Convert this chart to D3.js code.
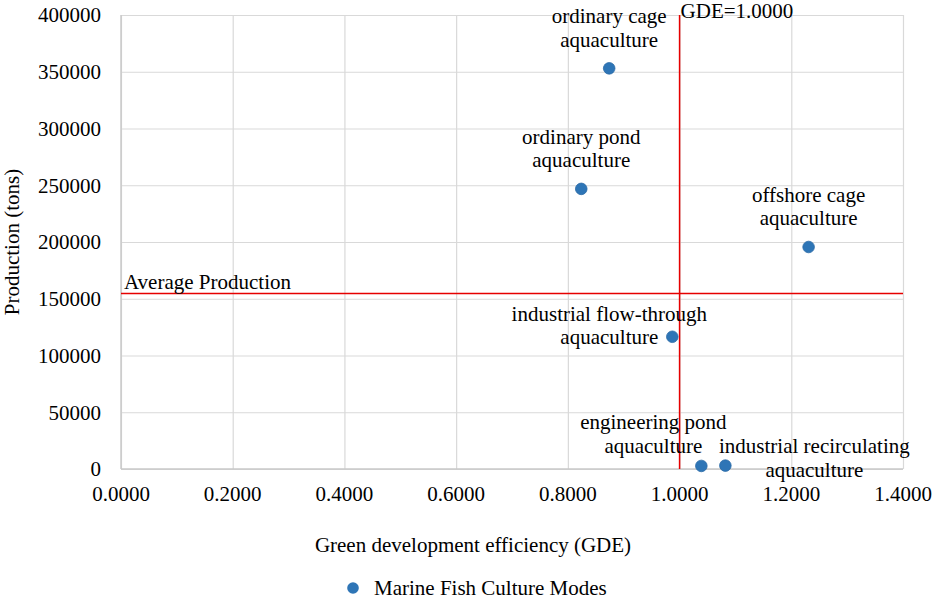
<!DOCTYPE html>
<html>
<head>
<meta charset="utf-8">
<script src="https://cdn.jsdelivr.net/npm/d3@7"></script>
<style>
	body { margin: 0; background: #fff; }
	svg text { font-family: "Liberation Serif", "Times New Roman", serif; fill: #000; }
</style>
</head>
<body>
<svg id="chart" width="935" height="599"></svg>
<script>
// culture modes
const modes = [
	["ordinary cage", "aquaculture"],
	["ordinary pond", "aquaculture"],
	["offshore cage", "aquaculture"],
	["industrial flow-through", "aquaculture"],
	["engineering pond", "aquaculture"],
	["industrial recirculating", "aquaculture"]
];
const gde = [0.874, 0.824, 1.231, 0.987, 1.039, 1.082];
const production = [353000, 246800, 195600, 116500, 2700, 3000];
const labelPlacement = ["above", "above", "above", "left", "aboveLeft", "belowRight"];

const xTicks = [0, 0.2, 0.4, 0.6, 0.8, 1.0, 1.2, 1.4];
const yTicks = [0, 50000, 100000, 150000, 200000, 250000, 300000, 350000, 400000];
const gdeThreshold = 1.0;
const avgProduction = 154700;
const seriesName = "Marine Fish Culture Modes";

const margin = {top: 15, right: 32, bottom: 130, left: 121},
			width = 935, height = 599,
			fontSize = 21,
			lineGap = 23.5;

const svg = d3.select("#chart");

const x = d3.scaleLinear().domain([0, 1.4]).range([margin.left, width - margin.right]);
const y = d3.scaleLinear().domain([0, 400000]).range([height - margin.bottom, margin.top]);

// grid
svg.append("g")
	.attr("transform", "translate(0," + y(0) + ")")
	.call(d3.axisBottom(x).tickValues(xTicks).tickSize(-(y(0) - y(400000))).tickFormat(""))
	.call(g => g.select(".domain").remove())
	.call(g => g.selectAll("line").attr("stroke", "#d9d9d9").attr("stroke-width", 1.2));

svg.append("g")
	.attr("transform", "translate(" + x(0) + ",0)")
	.call(d3.axisLeft(y).tickValues(yTicks).tickSize(-(x(1.4) - x(0))).tickFormat(""))
	.call(g => g.select(".domain").remove())
	.call(g => g.selectAll("line").attr("stroke", "#d9d9d9").attr("stroke-width", 1.2));

// axis lines
svg.append("line")
	.attr("x1", x(0)).attr("x2", x(0)).attr("y1", y(0)).attr("y2", y(400000))
	.attr("stroke", "#c8c8c8").attr("stroke-width", 1.4);
svg.append("line")
	.attr("x1", x(0)).attr("x2", x(1.4)).attr("y1", y(0)).attr("y2", y(0))
	.attr("stroke", "#c8c8c8").attr("stroke-width", 1.4);

// tick labels
svg.append("g").selectAll("text")
	.data(xTicks)
	.join("text")
		.attr("x", d => x(d))
		.attr("y", y(0) + 32)
		.attr("text-anchor", "middle")
		.attr("font-size", fontSize)
		.text(d => d3.format(".4f")(d));

svg.append("g").selectAll("text")
	.data(yTicks)
	.join("text")
		.attr("x", x(0) - 20)
		.attr("y", d => y(d))
		.attr("dy", "0.35em")
		.attr("text-anchor", "end")
		.attr("font-size", fontSize)
		.text(d => d);

// axis titles
svg.append("text")
	.attr("x", 473)
	.attr("y", 552)
	.attr("text-anchor", "middle")
	.attr("font-size", fontSize)
	.text("Green development efficiency (GDE)");

svg.append("text")
	.attr("transform", "translate(12," + (y(200000)) + ") rotate(-90)")
	.attr("text-anchor", "middle")
	.attr("dy", "0.35em")
	.attr("font-size", fontSize)
	.text("Production (tons)");

// reference lines
svg.append("line")
	.attr("x1", x(gdeThreshold)).attr("x2", x(gdeThreshold))
	.attr("y1", y(0)).attr("y2", y(400000))
	.attr("stroke", "#e60000").attr("stroke-width", 1.5);
svg.append("line")
	.attr("x1", x(0)).attr("x2", x(1.4))
	.attr("y1", y(avgProduction)).attr("y2", y(avgProduction))
	.attr("stroke", "#e60000").attr("stroke-width", 1.5);

svg.append("text")
	.attr("x", x(gdeThreshold) + 1)
	.attr("y", 18)
	.attr("font-size", fontSize)
	.text("GDE=" + d3.format(".4f")(gdeThreshold));

svg.append("text")
	.attr("x", x(0) + 3)
	.attr("y", y(avgProduction) - 4)
	.attr("font-size", fontSize)
	.text("Average Production");

// points
svg.append("g").selectAll("circle")
	.data(gde)
	.join("circle")
		.attr("cx", d => x(d))
		.attr("cy", (d, i) => y(production[i]))
		.attr("r", 5.8)
		.attr("fill", "#2e75b6")
		.attr("stroke", "#2a6aa6")
		.attr("stroke-width", 0.8);

// data labels
const placements = {
	above: {dx: 0, dy: -52.5},
	left: {dx: -63, dy: -23.4},
	aboveLeft: {dx: -48, dy: -44},
	belowRight: {dx: 89, dy: -19.6}
};

const labels = svg.append("g").selectAll("text")
	.data(modes)
	.join("text")
		.attr("text-anchor", "middle")
		.attr("font-size", fontSize)
		.attr("transform", (d, i) => {
			const p = placements[labelPlacement[i]];
			return "translate(" + (x(gde[i]) + p.dx) + "," + (y(production[i]) + p.dy) + ")";
		});

labels.selectAll("tspan")
	.data(d => d)
	.join("tspan")
		.attr("x", 0)
		.attr("y", (d, j) => j * lineGap)
		.attr("dy", "0.35em")
		.text(d => d);

// legend
const legend = svg.append("g").attr("transform", "translate(353,588)");
legend.append("circle")
	.attr("r", 5.8)
	.attr("fill", "#2e75b6");
legend.append("text")
	.attr("x", 21)
	.attr("dy", "0.35em")
	.attr("font-size", fontSize)
	.text(seriesName);
</script>
</body>
</html>
